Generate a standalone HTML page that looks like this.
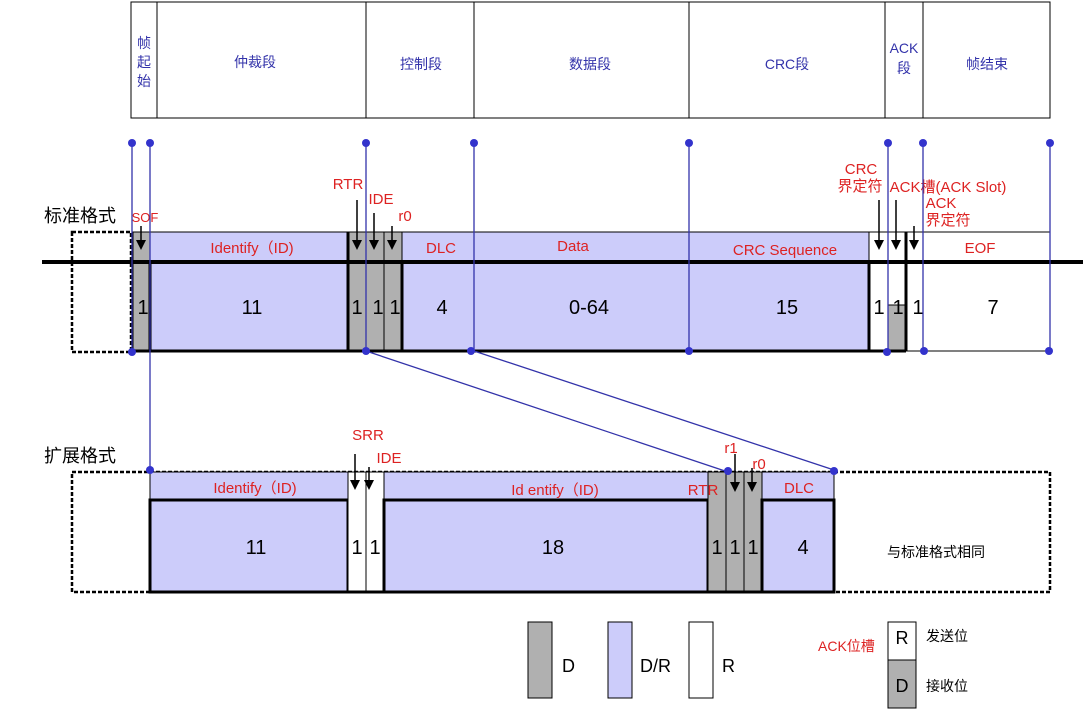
<!DOCTYPE html>
<html><head><meta charset="utf-8"><style>
html,body{margin:0;padding:0;background:#fff;}
svg{display:block;font-family:"Liberation Sans","Noto Sans CJK SC",sans-serif;}
</style></head><body>
<svg width="1085" height="716" viewBox="0 0 1085 716">
<g stroke="#000" stroke-width="1" fill="none">
<rect x="131" y="2" width="919" height="116"/>
<line x1="157" y1="2" x2="157" y2="118"/><line x1="366" y1="2" x2="366" y2="118"/>
<line x1="474" y1="2" x2="474" y2="118"/><line x1="689" y1="2" x2="689" y2="118"/>
<line x1="885" y1="2" x2="885" y2="118"/><line x1="923" y1="2" x2="923" y2="118"/>
</g>
<g fill="#3333aa" font-size="14" text-anchor="middle">
<text x="144" y="48">帧</text><text x="144" y="67">起</text><text x="144" y="86">始</text>
<text x="255" y="67">仲裁段</text><text x="421" y="69">控制段</text><text x="590" y="69">数据段</text>
<text x="787" y="69">CRC段</text><text x="904" y="53">ACK</text><text x="904" y="73">段</text><text x="987" y="69">帧结束</text>
</g>
<text x="44" y="222" font-size="18" fill="#000">标准格式</text>
<rect x="72" y="232" width="59" height="120" fill="none" stroke="#000" stroke-width="2.5" stroke-dasharray="4,2"/>
<rect x="133" y="232" width="17" height="119" fill="#b0b0b0" stroke="#000" stroke-width="1"/>
<rect x="150" y="232" width="198" height="30" fill="#ccccfa" stroke="#000" stroke-width="1"/>
<rect x="150" y="262" width="198" height="89" fill="#ccccfa" stroke="#000" stroke-width="3"/>
<rect x="348" y="232" width="54" height="119" fill="#b0b0b0" stroke="#000" stroke-width="1"/>
<line x1="348" y1="232" x2="348" y2="351" stroke="#000" stroke-width="3"/>
<line x1="366" y1="232" x2="366" y2="351" stroke="#000" stroke-width="1"/>
<line x1="384" y1="232" x2="384" y2="351" stroke="#000" stroke-width="1"/>
<rect x="402" y="232" width="467" height="30" fill="#ccccfa" stroke="#000" stroke-width="1"/>
<rect x="402" y="262" width="467" height="89" fill="#ccccfa" stroke="#000" stroke-width="3"/>
<line x1="474" y1="262" x2="474" y2="351" stroke="#000" stroke-width="1"/>
<line x1="689" y1="262" x2="689" y2="351" stroke="#000" stroke-width="1"/>
<rect x="869" y="232" width="181" height="119" fill="#fff" stroke="#000" stroke-width="1"/>
<rect x="888" y="305" width="18" height="46" fill="#b0b0b0" stroke="#000" stroke-width="1"/>
<line x1="906" y1="232" x2="906" y2="351" stroke="#000" stroke-width="3"/>
<line x1="888" y1="262" x2="888" y2="351" stroke="#000" stroke-width="1"/>
<line x1="869" y1="262" x2="869" y2="351" stroke="#000" stroke-width="3"/>
<line x1="131" y1="351" x2="906" y2="351" stroke="#000" stroke-width="3"/>
<line x1="42" y1="262" x2="1083" y2="262" stroke="#000" stroke-width="4"/>
<g fill="#dd2222" font-size="15" text-anchor="middle">
<text x="252" y="253">Identify（ID)</text><text x="441" y="253">DLC</text><text x="573" y="251">Data</text>
<text x="785" y="255">CRC Sequence</text><text x="980" y="253">EOF</text>
<text x="145" y="222" font-size="13">SOF</text>
<text x="348" y="189">RTR</text><text x="381" y="204">IDE</text><text x="405" y="221">r0</text>
<text x="861" y="174">CRC</text><text x="860" y="191">界定符</text>
<text x="948" y="192">ACK槽(ACK Slot)</text><text x="941" y="208">ACK</text><text x="948" y="225">界定符</text>
</g>
<g fill="#000" font-size="20" text-anchor="middle">
<text x="143" y="314">1</text><text x="252" y="314">11</text><text x="357" y="314">1</text><text x="378" y="314">1</text><text x="395" y="314">1</text>
<text x="442" y="314">4</text><text x="589" y="314">0-64</text><text x="787" y="314">15</text>
<text x="879" y="314">1</text><text x="898" y="314">1</text><text x="918" y="314">1</text><text x="993" y="314">7</text>
</g>
<text x="44" y="462" font-size="18" fill="#000">扩展格式</text>
<rect x="72" y="472" width="978" height="120" fill="none" stroke="#000" stroke-width="2.5" stroke-dasharray="4,2"/>
<rect x="150" y="472" width="684" height="28" fill="#ccccfa" stroke="#000" stroke-width="1"/>
<rect x="150" y="500" width="198" height="92" fill="#ccccfa" stroke="#000" stroke-width="3"/>
<rect x="348" y="472" width="36" height="120" fill="#fff" stroke="#000" stroke-width="1"/>
<line x1="366" y1="472" x2="366" y2="592" stroke="#000" stroke-width="1"/>
<rect x="384" y="500" width="324" height="92" fill="#ccccfa" stroke="#000" stroke-width="3"/>
<rect x="708" y="472" width="54" height="120" fill="#b0b0b0" stroke="#000" stroke-width="1"/>
<line x1="726" y1="472" x2="726" y2="592" stroke="#000" stroke-width="1"/>
<line x1="744" y1="472" x2="744" y2="592" stroke="#000" stroke-width="1"/>
<rect x="762" y="500" width="72" height="92" fill="#ccccfa" stroke="#000" stroke-width="3"/>
<line x1="150" y1="592" x2="834" y2="592" stroke="#000" stroke-width="3"/>
<g fill="#dd2222" font-size="15" text-anchor="middle">
<text x="255" y="493">Identify（ID)</text><text x="555" y="495">Id entify（ID)</text><text x="703" y="495">RTR</text>
<text x="799" y="493">DLC</text><text x="368" y="440">SRR</text><text x="389" y="463">IDE</text>
<text x="731" y="453">r1</text><text x="759" y="469">r0</text>
</g>
<g fill="#000" font-size="20" text-anchor="middle">
<text x="256" y="554">11</text><text x="357" y="554">1</text><text x="375" y="554">1</text><text x="553" y="554">18</text>
<text x="717" y="554">1</text><text x="735" y="554">1</text><text x="753" y="554">1</text><text x="803" y="554">4</text>
</g>
<text x="936" y="557" font-size="14" fill="#000" text-anchor="middle">与标准格式相同</text>
<!-- arrows -->
<g stroke="#000" stroke-width="1.5">
<line x1="141" y1="226" x2="141" y2="242"/><line x1="357" y1="200" x2="357" y2="242"/>
<line x1="374" y1="213" x2="374" y2="242"/><line x1="392" y1="226" x2="392" y2="242"/>
<line x1="879" y1="200" x2="879" y2="242"/><line x1="896" y1="200" x2="896" y2="242"/>
<line x1="914" y1="226" x2="914" y2="242"/>
<line x1="355" y1="454" x2="355" y2="482"/><line x1="369" y1="467" x2="369" y2="482"/>
<line x1="735" y1="454" x2="735" y2="484"/><line x1="752" y1="468" x2="752" y2="484"/>
</g>
<g fill="#000">
<polygon points="136,240 146,240 141,250"/><polygon points="352,240 362,240 357,250"/>
<polygon points="369,240 379,240 374,250"/><polygon points="387,240 397,240 392,250"/>
<polygon points="874,240 884,240 879,250"/><polygon points="891,240 901,240 896,250"/>
<polygon points="909,240 919,240 914,250"/>
<polygon points="350,480 360,480 355,490"/><polygon points="364,480 374,480 369,490"/>
<polygon points="730,482 740,482 735,492"/><polygon points="747,482 757,482 752,492"/>
</g>
<g stroke="#3333aa" stroke-width="1.3">
<line x1="132" y1="143" x2="132" y2="351"/><line x1="150" y1="143" x2="150" y2="470"/>
<line x1="366" y1="143" x2="366" y2="351"/><line x1="474" y1="143" x2="474" y2="351"/>
<line x1="689" y1="143" x2="689" y2="351"/><line x1="888" y1="143" x2="888" y2="351"/>
<line x1="923" y1="143" x2="923" y2="351"/><line x1="1050" y1="143" x2="1050" y2="351"/>
<line x1="366" y1="351" x2="728" y2="472"/><line x1="474" y1="351" x2="834" y2="470"/>
</g>
<g fill="#3333cc">
<circle cx="132" cy="143" r="4"/><circle cx="150" cy="143" r="4"/><circle cx="366" cy="143" r="4"/><circle cx="474" cy="143" r="4"/>
<circle cx="689" cy="143" r="4"/><circle cx="888" cy="143" r="4"/><circle cx="923" cy="143" r="4"/><circle cx="1050" cy="143" r="4"/>
<circle cx="132" cy="352" r="4"/><circle cx="366" cy="351" r="4"/><circle cx="471" cy="351" r="4"/><circle cx="689" cy="351" r="4"/>
<circle cx="887" cy="352" r="4"/><circle cx="924" cy="351" r="4"/><circle cx="1049" cy="351" r="4"/>
<circle cx="150" cy="470" r="4"/><circle cx="728" cy="471" r="4"/><circle cx="834" cy="471" r="4"/>
</g>
<rect x="528" y="622" width="24" height="76" fill="#b0b0b0" stroke="#000"/>
<rect x="608" y="622" width="24" height="76" fill="#ccccfa" stroke="#000"/>
<rect x="689" y="622" width="24" height="76" fill="#fff" stroke="#000"/>
<g font-size="18" fill="#000"><text x="562" y="672">D</text><text x="640" y="672">D/R</text><text x="722" y="672">R</text></g>
<text x="818" y="651" font-size="14" fill="#dd2222">ACK位槽</text>
<rect x="888" y="622" width="28" height="38" fill="#fff" stroke="#000"/>
<rect x="888" y="660" width="28" height="48" fill="#b0b0b0" stroke="#000"/>
<g font-size="18" fill="#000" text-anchor="middle"><text x="902" y="644">R</text><text x="902" y="692">D</text></g>
<g font-size="14" fill="#000"><text x="926" y="641">发送位</text><text x="926" y="691">接收位</text></g>
</svg>
</body></html>
